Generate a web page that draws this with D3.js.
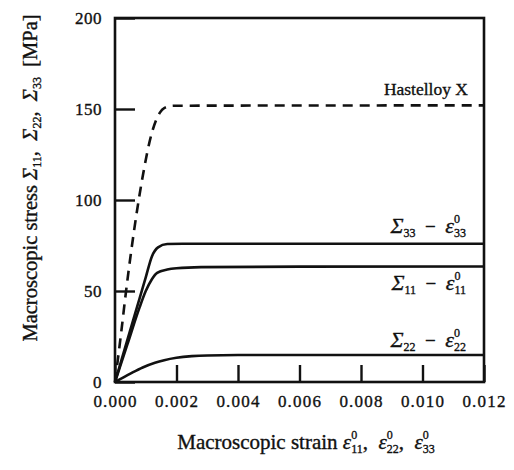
<!DOCTYPE html>
<html>
<head>
<meta charset="utf-8">
<script src="https://cdn.jsdelivr.net/npm/d3@7"></script>
<style>
  body { margin: 0; background: #fff; }
  text { font-family: "Liberation Serif", "Times New Roman", serif; fill: #111; stroke: #111; stroke-width: 0.35; white-space: pre; }
</style>
</head>
<body>
<div id="chart"></div>
<script>
// size of the page
var w = 514;
var h = 470;

// axis ticks
var strainTicks = [0, 0.002, 0.004, 0.006, 0.008, 0.010, 0.012];
var stressTicks = [0, 50, 100, 150, 200];

// curves (strain, stress in MPa)
var hastelloyStrain = [0, 0.0002, 0.00036, 0.00072, 0.00088, 0.0012, 0.00146, 0.0016, 0.0019, 0.012];
var hastelloyStress = [0, 27, 50, 94.5, 111, 137, 148, 150.5, 151.8, 152];

var sigma33Strain = [0, 0.0004, 0.0008, 0.001, 0.0012, 0.0014, 0.0017, 0.0022, 0.012];
var sigma33Stress = [0, 23, 46, 57.5, 69, 74, 75.8, 76, 76];

var sigma11Strain = [0, 0.0004, 0.0008, 0.001, 0.0012, 0.00137, 0.0017, 0.002, 0.0028, 0.006, 0.012];
var sigma11Stress = [0, 20.5, 41, 50, 56.5, 60, 61.8, 62.5, 63.1, 63.4, 63.5];

var sigma22Strain = [0, 0.0005, 0.0009, 0.0013, 0.0016, 0.002, 0.0025, 0.003, 0.004, 0.012];
var sigma22Stress = [0, 4.6, 8, 10.6, 12, 13.3, 14.2, 14.6, 14.8, 14.8];

function zip(xs, ys) {
	return xs.map(function(d, i) { return [d, ys[i]]; });
}

var svg = d3.select("#chart")
			.append("svg")
			.attr("width", w)
			.attr("height", h);

var x = d3.scaleLinear().domain([0, 0.012]).range([115, 484]);
var y = d3.scaleLinear().domain([0, 200]).range([382, 18]);

// text with sub/superscripts as tspans, measured piece by piece
function richText(parent, parts, size) {
	var t = parent.append("text").attr("font-size", size);
	var cur = 0, cx = 0, maxX = 0, prevW = 0;
	parts.forEach(function(p) {
		var off = p.dy || 0;
		var ts = t.append("tspan")
			.attr("font-size", p.size || size)
			.attr("font-style", p.italic ? "italic" : "normal")
			.attr("dy", off - cur)
			.text(p.t);
		if (p.stack) {
			ts.attr("dx", -prevW);
			cx -= prevW;
		}
		cur = off;
		var tw = ts.node().getComputedTextLength();
		cx += tw;
		prevW = tw;
		maxX = Math.max(maxX, cx);
	});
	return { g: t, width: maxX };
}

// curves
var line = d3.line()
	.x(function(d) { return x(d[0]); })
	.y(function(d) { return y(d[1]); })
	.curve(d3.curveMonotoneX);

var curves = [
	{ data: zip(sigma22Strain, sigma22Stress), dash: null },
	{ data: zip(sigma11Strain, sigma11Stress), dash: null },
	{ data: zip(sigma33Strain, sigma33Stress), dash: null },
	{ data: zip(hastelloyStrain, hastelloyStress), dash: "10,7" }
];

svg.selectAll("path.curve")
	.data(curves)
	.enter()
	.append("path")
	.attr("class", "curve")
	.attr("d", function(d) { return line(d.data); })
	.attr("fill", "none")
	.attr("stroke", "#111")
	.attr("stroke-width", 2.6)
	.attr("stroke-dasharray", function(d) { return d.dash; });

// axes (ticks point inward)
var xAxis = svg.append("g")
	.attr("transform", "translate(0," + y(0) + ")")
	.call(d3.axisBottom(x).tickValues(strainTicks).tickSize(-17).tickPadding(13)
		.tickFormat(d3.format(".3f")));
var yAxis = svg.append("g")
	.attr("transform", "translate(" + x(0) + ",0)")
	.call(d3.axisLeft(y).tickValues(stressTicks).tickSize(-20).tickPadding(13));

[xAxis, yAxis].forEach(function(a) {
	a.select(".domain").remove();
	a.selectAll("line").attr("stroke", "#111").attr("stroke-width", 2.4);
	a.selectAll("text")
		.attr("font-family", "Liberation Serif, serif")
		.attr("font-size", 17)
		.attr("fill", "#111");
});
xAxis.selectAll("text").attr("letter-spacing", 1.2);
yAxis.selectAll("text").attr("letter-spacing", 0.5);

// frame
svg.append("rect")
	.attr("x", x(0))
	.attr("y", y(200))
	.attr("width", x(0.012) - x(0))
	.attr("height", y(0) - y(200))
	.attr("fill", "none")
	.attr("stroke", "#111")
	.attr("stroke-width", 2.6);

// curve labels
svg.append("text")
	.attr("x", x(0.012) - 16)
	.attr("y", y(152) - 10)
	.attr("text-anchor", "end")
	.attr("font-size", 17.5)
	.text("Hastelloy X");

function pairLabel(sub, bx, by) {
	var r = richText(svg, [
		{ t: "\u03A3", italic: true },
		{ t: sub, size: 12, dy: 4 },
		{ t: "  \u2212  ", size: 19 },
		{ t: "\u03B5", italic: true },
		{ t: "0", size: 12, dy: -10 },
		{ t: sub, size: 12, dy: 4, stack: true }
	], 22);
	r.g.attr("transform", "translate(" + (bx - r.width) + "," + by + ")");
}
pairLabel("33", x(0.012) - 18, y(76) - 11);
pairLabel("11", x(0.012) - 18, y(63.5) + 24);
pairLabel("22", x(0.012) - 18, y(14.8) - 8);

// axis titles
var xt = richText(svg, [
	{ t: "Macroscopic strain " },
	{ t: "\u03B5", italic: true },
	{ t: "0", size: 12, dy: -10 },
	{ t: "11", size: 12, dy: 4, stack: true },
	{ t: ",  " },
	{ t: "\u03B5", italic: true },
	{ t: "0", size: 12, dy: -10 },
	{ t: "22", size: 12, dy: 4, stack: true },
	{ t: ",  " },
	{ t: "\u03B5", italic: true },
	{ t: "0", size: 12, dy: -10 },
	{ t: "33", size: 12, dy: 4, stack: true }
], 21);
xt.g.attr("transform", "translate(" + (306 - xt.width / 2) + ",449)");

var yt = richText(svg, [
	{ t: "Macroscopic stress " },
	{ t: "\u03A3", italic: true },
	{ t: "11", size: 12, dy: 4 },
	{ t: ",  " },
	{ t: "\u03A3", italic: true },
	{ t: "22", size: 12, dy: 4 },
	{ t: ",  " },
	{ t: "\u03A3", italic: true },
	{ t: "33", size: 12, dy: 4 },
	{ t: "  [MPa]" }
], 20.5);
yt.g.attr("transform", "translate(37," + (178 + yt.width / 2) + ") rotate(-90)");
</script>
</body>
</html>
